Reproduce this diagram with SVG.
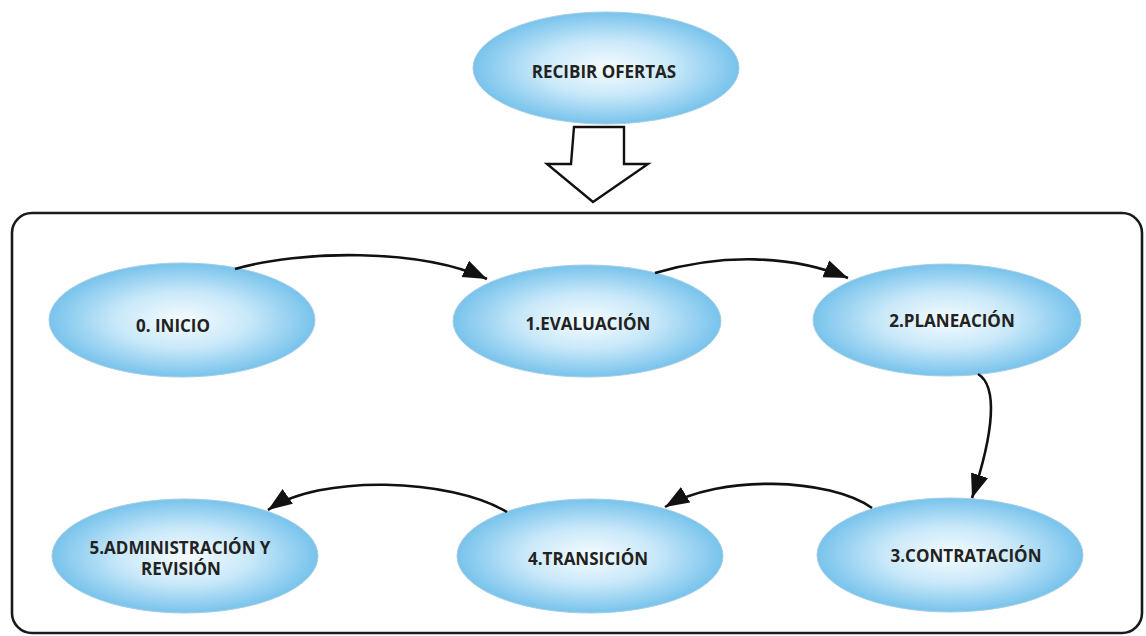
<svg xmlns="http://www.w3.org/2000/svg" width="1146" height="636" viewBox="0 0 1146 636">
  <defs>
    <radialGradient id="bubble" cx="50%" cy="50%" r="50%">
      <stop offset="0" stop-color="#f6fcff"/>
      <stop offset="0.5" stop-color="#c8e8f9"/>
      <stop offset="1" stop-color="#78c3ec"/>
    </radialGradient>
    <marker id="head" markerUnits="userSpaceOnUse" markerWidth="26" markerHeight="20" viewBox="0 0 26 20" refX="24" refY="10" orient="auto">
      <path d="M0,1 L24,10 L0,19 Z" fill="#111"/>
    </marker>
    <style>
      .node ellipse { fill: url(#bubble); stroke: #a6cde4; stroke-width: 1; }
      .node text { font-family: "Open Sans", "Liberation Sans", sans-serif; font-weight: bold; font-size: 17px; fill: #222; text-anchor: middle; dominant-baseline: central; }
      .link { fill: none; stroke: #111; stroke-width: 2.6; marker-end: url(#head); }
      .frame { fill: none; stroke: #1a1a1a; stroke-width: 2.6; }
    </style>
  </defs>
  <rect width="1146" height="636" fill="#ffffff"/>

  <!-- container frame -->
  <rect class="frame" x="12" y="213" width="1130" height="420" rx="20" ry="20"/>

  <!-- input node and hollow arrow into the process -->
  <g id="recibir" class="node">
    <ellipse cx="606" cy="68" rx="133" ry="56"/>
    <text x="604" y="71">RECIBIR OFERTAS</text>
  </g>
  <g id="entrada">
    <path d="M574,127 L624,127 L624,164 L648,164 L593,202 L547,164 L571,164 Z" fill="#ffffff" stroke="#111" stroke-width="2.4" stroke-linejoin="miter"/>
  </g>

  <!-- process steps -->
  <g id="inicio" class="node">
    <ellipse cx="182" cy="320" rx="133" ry="57"/>
    <text x="173" y="325">0. INICIO</text>
  </g>
  <g id="evaluacion" class="node">
    <ellipse cx="587" cy="321" rx="134" ry="56"/>
    <text x="588" y="323">1.EVALUACIÓN</text>
  </g>
  <g id="planeacion" class="node">
    <ellipse cx="947" cy="320" rx="134" ry="56"/>
    <text x="952" y="320">2.PLANEACIÓN</text>
  </g>
  <g id="contratacion" class="node">
    <ellipse cx="950" cy="555" rx="133" ry="57"/>
    <text x="966" y="555">3.CONTRATACIÓN</text>
  </g>
  <g id="transicion" class="node">
    <ellipse cx="590" cy="556" rx="133" ry="57"/>
    <text x="588" y="558">4.TRANSICIÓN</text>
  </g>
  <g id="administracion" class="node">
    <ellipse cx="185" cy="556" rx="133" ry="57"/>
    <text x="180" y="547">5.ADMINISTRACIÓN Y</text>
    <text x="181" y="568">REVISIÓN</text>
  </g>

  <!-- connectors -->
  <g id="connectors">
    <path class="link" d="M235,269 C300,250 420,248 487,279"/>
    <path class="link" d="M655,273 C720,254 790,254 848,278"/>
    <path class="link" d="M978,374 C998,386 994,432 972,498"/>
    <path class="link" d="M872,508 C830,478 720,474 665,507"/>
    <path class="link" d="M507,512 C450,478 320,474 268,510"/>
  </g>
</svg>
